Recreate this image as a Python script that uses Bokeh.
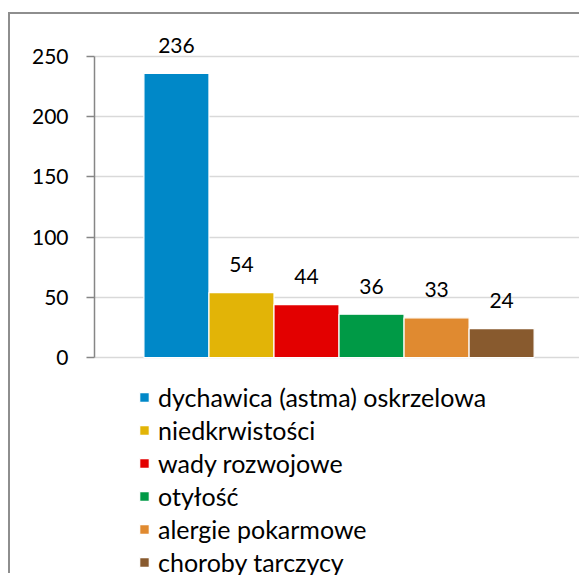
from bokeh.plotting import figure
from bokeh.models import ColumnDataSource, Range1d, FixedTicker, Legend, LegendItem
from bokeh.core.properties import value
from bokeh.embed import file_html
from bokeh.resources import INLINE

categories = ["dychawica (astma) oskrzelowa", "niedkrwistości", "wady rozwojowe",
              "otyłość", "alergie pokarmowe", "choroby tarczycy"]
counts = [236, 54, 44, 36, 33, 24]
colors = ["#0088c8", "#e2b407", "#e30000", "#009a46", "#e08a30", "#885a2e"]
y_ticks = [0, 50, 100, 150, 200, 250]

FONT = "Lato"

src = ColumnDataSource(dict(x=list(range(len(counts))), top=counts, color=colors,
                            label=categories, txt=[str(c) for c in counts]))

p = figure(width=575, height=561, output_backend="svg", toolbar_location=None,
           x_axis_type=None, x_range=Range1d(-1.26, 6.29), y_range=Range1d(-181, 270),
           min_border_left=84, min_border_top=18, min_border_right=0, min_border_bottom=0)
p.styles = {"border-left": "2px solid #8e8e8e", "border-top": "2px solid #8e8e8e",
            "margin-top": "12px", "margin-left": "8px"}
p.outline_line_color = None
p.background_fill_color = "white"
p.border_fill_color = "white"

p.xgrid.visible = False
p.ygrid.ticker = FixedTicker(ticks=y_ticks)
p.ygrid.grid_line_color = "#d9d9d9"
p.ygrid.grid_line_width = 1.5

ax = p.yaxis[0]
ax.ticker = FixedTicker(ticks=y_ticks)
ax.bounds = (0, 250)
ax.axis_line_color = "#868686"
ax.axis_line_width = 1.5
ax.major_tick_line_color = "#868686"
ax.major_tick_line_width = 1.5
ax.major_tick_out = 8
ax.major_tick_in = 0
ax.minor_tick_line_color = None
ax.major_label_standoff = 18
ax.major_label_text_font = FONT
ax.major_label_text_font_size = "21px"
ax.major_label_text_color = "black"

r = p.vbar(x="x", top="top", bottom=0, width=1.0, fill_color="color",
           line_color="white", line_width=1.2, source=src)

p.text(x="x", y="top", text="txt", source=src, text_align="center",
       text_baseline="alphabetic", y_offset=-28, text_font=value(FONT),
       text_font_size="21px", text_color="black")

items = [LegendItem(label=categories[i], renderers=[r], index=i) for i in range(len(categories))]
legend = Legend(items=items, location=(44, -2), orientation="vertical",
                glyph_width=12, glyph_height=12, label_height=30, spacing=3,
                padding=0, margin=0, label_standoff=8,
                label_text_font=FONT, label_text_font_size="25px", label_text_color="black",
                border_line_color=None, background_fill_alpha=0)
p.add_layout(legend)

open("out.html", "w").write(file_html(p, INLINE))
